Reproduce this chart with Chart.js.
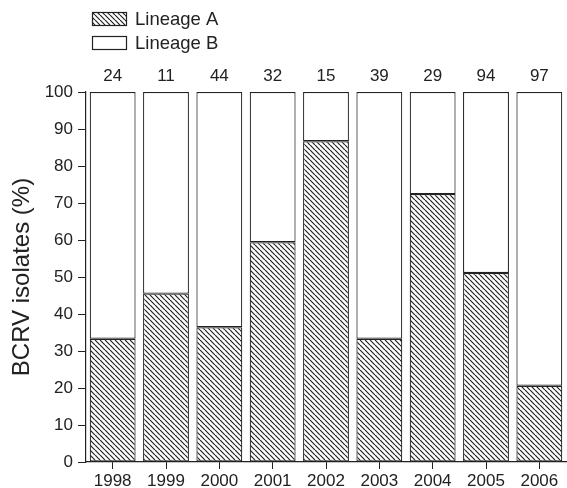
<!DOCTYPE html>
<html>
<head>
<meta charset="utf-8">
<script src="https://cdn.jsdelivr.net/npm/chart.js@4"></script>
<style>
html,body{margin:0;padding:0;background:#fff;}
#wrap{width:567px;height:488px;}
</style>
</head>
<body>
<div id="wrap"><canvas id="c" width="567" height="488"></canvas></div>
<script>
const years = ['1998','1999','2000','2001','2002','2003','2004','2005','2006'];
const counts = [24, 11, 44, 32, 15, 39, 29, 94, 97];
const lineageA = [33.3, 45.5, 36.4, 59.4, 86.7, 33.3, 72.4, 51.1, 20.6];
const lineageB = [66.7, 54.5, 63.6, 40.6, 13.3, 66.7, 27.6, 48.9, 79.4];
const yTicks = [0,10,20,30,40,50,60,70,80,90,100];

const FONT = 'Liberation Sans, Arial, sans-serif';
const INK = '#222';

function hatch(){
  const s = 5;
  const c = document.createElement('canvas');
  c.width = s; c.height = s;
  const g = c.getContext('2d');
  g.fillStyle = '#fff'; g.fillRect(0,0,s,s);
  g.strokeStyle = INK; g.lineWidth = 1.2;
  g.beginPath();
  for (const o of [-s,0,s]) { g.moveTo(o,0); g.lineTo(o+s,s); }
  g.stroke();
  return document.getElementById('c').getContext('2d').createPattern(c,'repeat');
}
const pat = hatch();

const overlay = {
  id:'overlay',
  afterDraw(chart){
    const ctx = chart.ctx;
    const x = chart.scales.x, y = chart.scales.y;
    ctx.save();
    ctx.fillStyle = INK;
    ctx.font = '17px ' + FONT;
    ctx.textAlign = 'center';
    ctx.textBaseline = 'middle';
    counts.forEach((n,i)=>{
      ctx.fillText(String(n), x.getPixelForValue(i), y.getPixelForValue(100) - 16);
    });
    // legend
    const items = chart.data.datasets;
    items.forEach((ds,i)=>{
      const ly = 19 + i*24;
      ctx.fillStyle = ds.backgroundColor;
      ctx.fillRect(92, ly-7, 35, 14);
      ctx.strokeStyle = INK; ctx.lineWidth = 1.2;
      ctx.strokeRect(92.5, ly-6.5, 34, 13);
      ctx.fillStyle = INK;
      ctx.textAlign = 'left';
      ctx.font = '18.5px ' + FONT;
      ctx.fillText(ds.label, 135, ly+1);
    });
    ctx.restore();
  }
};

new Chart(document.getElementById('c'), {
  type:'bar',
  data:{
    labels: years,
    datasets:[
      {label:'Lineage A', data: lineageA, backgroundColor: pat, borderColor: INK, borderWidth: 1.2, borderSkipped:false},
      {label:'Lineage B', data: lineageB, backgroundColor: '#ffffff', borderColor: INK, borderWidth: 1.2, borderSkipped:false}
    ]
  },
  options:{
    responsive:false,
    animation:false,
    layout:{padding:{top:92, right:1, left:0, bottom:0}},
    plugins:{legend:{display:false}, tooltip:{enabled:false}},
    datasets:{bar:{categoryPercentage:1, barPercentage:0.86}},
    scales:{
      x:{
        stacked:true,
        grid:{display:true, drawOnChartArea:false, color:INK, tickLength:7, offset:false},
        border:{display:true, color:INK, width:1.2},
        ticks:{color:INK, font:{size:17, family:FONT}, padding:2, maxRotation:0},
        afterFit(s){ s.height = 26; }
      },
      y:{
        stacked:true, min:0, max:100,
        afterBuildTicks(s){ s.ticks = yTicks.map(v=>({value:v})); },
        grid:{display:true, drawOnChartArea:false, color:INK, tickLength:8},
        border:{display:true, color:INK, width:1.2},
        ticks:{color:INK, font:{size:17, family:FONT}, padding:5},
        title:{display:true, text:'BCRV isolates (%)', color:INK, font:{size:24, family:FONT}, padding:{top:8,bottom:0}},
        afterFit(s){ s.width = 86; }
      }
    }
  },
  plugins:[overlay]
});
</script>
</body>
</html>
